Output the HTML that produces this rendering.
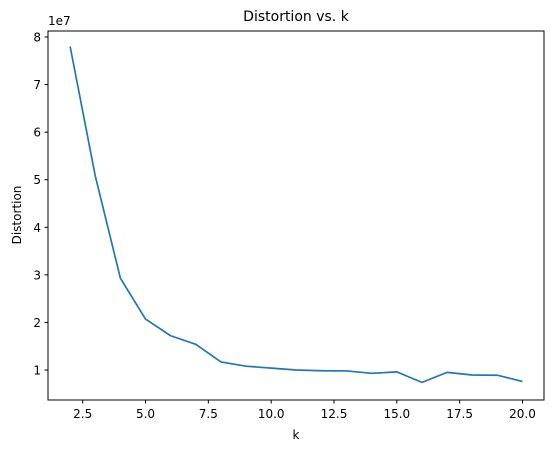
<!DOCTYPE html>
<html><head><meta charset="utf-8"><style>
body{margin:0;background:#fff}
svg{display:block;font-family:"DejaVu Sans","Liberation Sans",sans-serif}
</style></head><body>
<svg id="chart" width="554" height="453">
<text x="296" y="21" text-anchor="middle" font-size="14" fill="#000">Distortion vs. k</text>
<text x="48" y="25" font-size="12" fill="#000">1e7</text>
<g id="ticks"></g>
<polyline id="line" fill="none" stroke="#1f77b4" stroke-width="1.7" stroke-linejoin="round"/>
<rect x="48" y="31" width="496" height="369" fill="none" stroke="#000" stroke-width="1"/>
<text x="296" y="439" text-anchor="middle" font-size="12">k</text>
<text transform="translate(21,215) rotate(-90)" text-anchor="middle" font-size="12">Distortion</text>
</svg>
<script>
const ks=[2,3,4,5,6,7,8,9,10,11,12,13,14,15,16,17,18,19,20];
const distortion=[7.80,5.08,2.93,2.07,1.72,1.54,1.17,1.08,1.04,1.00,0.985,0.98,0.93,0.96,0.74,0.95,0.895,0.89,0.76];
const xTicks=[2.5,5.0,7.5,10.0,12.5,15.0,17.5,20.0];
const yTicks=[1,2,3,4,5,6,7,8];
const xs=k=>82.7+(k-2.5)*25.13;
const ys=v=>370-(v-1)*47.57;
const ns="http://www.w3.org/2000/svg";
const g=document.getElementById('ticks');
xTicks.forEach(t=>{
  const l=document.createElementNS(ns,'line');
  l.setAttribute('x1',xs(t));l.setAttribute('x2',xs(t));l.setAttribute('y1',400);l.setAttribute('y2',403.5);l.setAttribute('stroke','#000');
  
  
  g.appendChild(l);
  const tx=document.createElementNS(ns,'text');
  tx.setAttribute('x',xs(t));tx.setAttribute('y',418);tx.setAttribute('text-anchor','middle');tx.setAttribute('font-size','12');
  tx.textContent=t.toFixed(1);
  
  
  g.appendChild(tx);
});
yTicks.forEach(t=>{
  const l=document.createElementNS(ns,'line');
  l.setAttribute('x1',44.5);l.setAttribute('x2',48);l.setAttribute('y1',ys(t));l.setAttribute('y2',ys(t));l.setAttribute('stroke','#000');
  
  
  g.appendChild(l);
  const tx=document.createElementNS(ns,'text');
  tx.setAttribute('x',41);tx.setAttribute('y',ys(t)+4.5);tx.setAttribute('text-anchor','end');tx.setAttribute('font-size','12');
  tx.textContent=String(t);
  
  
  g.appendChild(tx);
});
document.getElementById('line').setAttribute('points',ks.map((k,i)=>xs(k)+','+ys(distortion[i])).join(' '));
</script>
</body></html>
